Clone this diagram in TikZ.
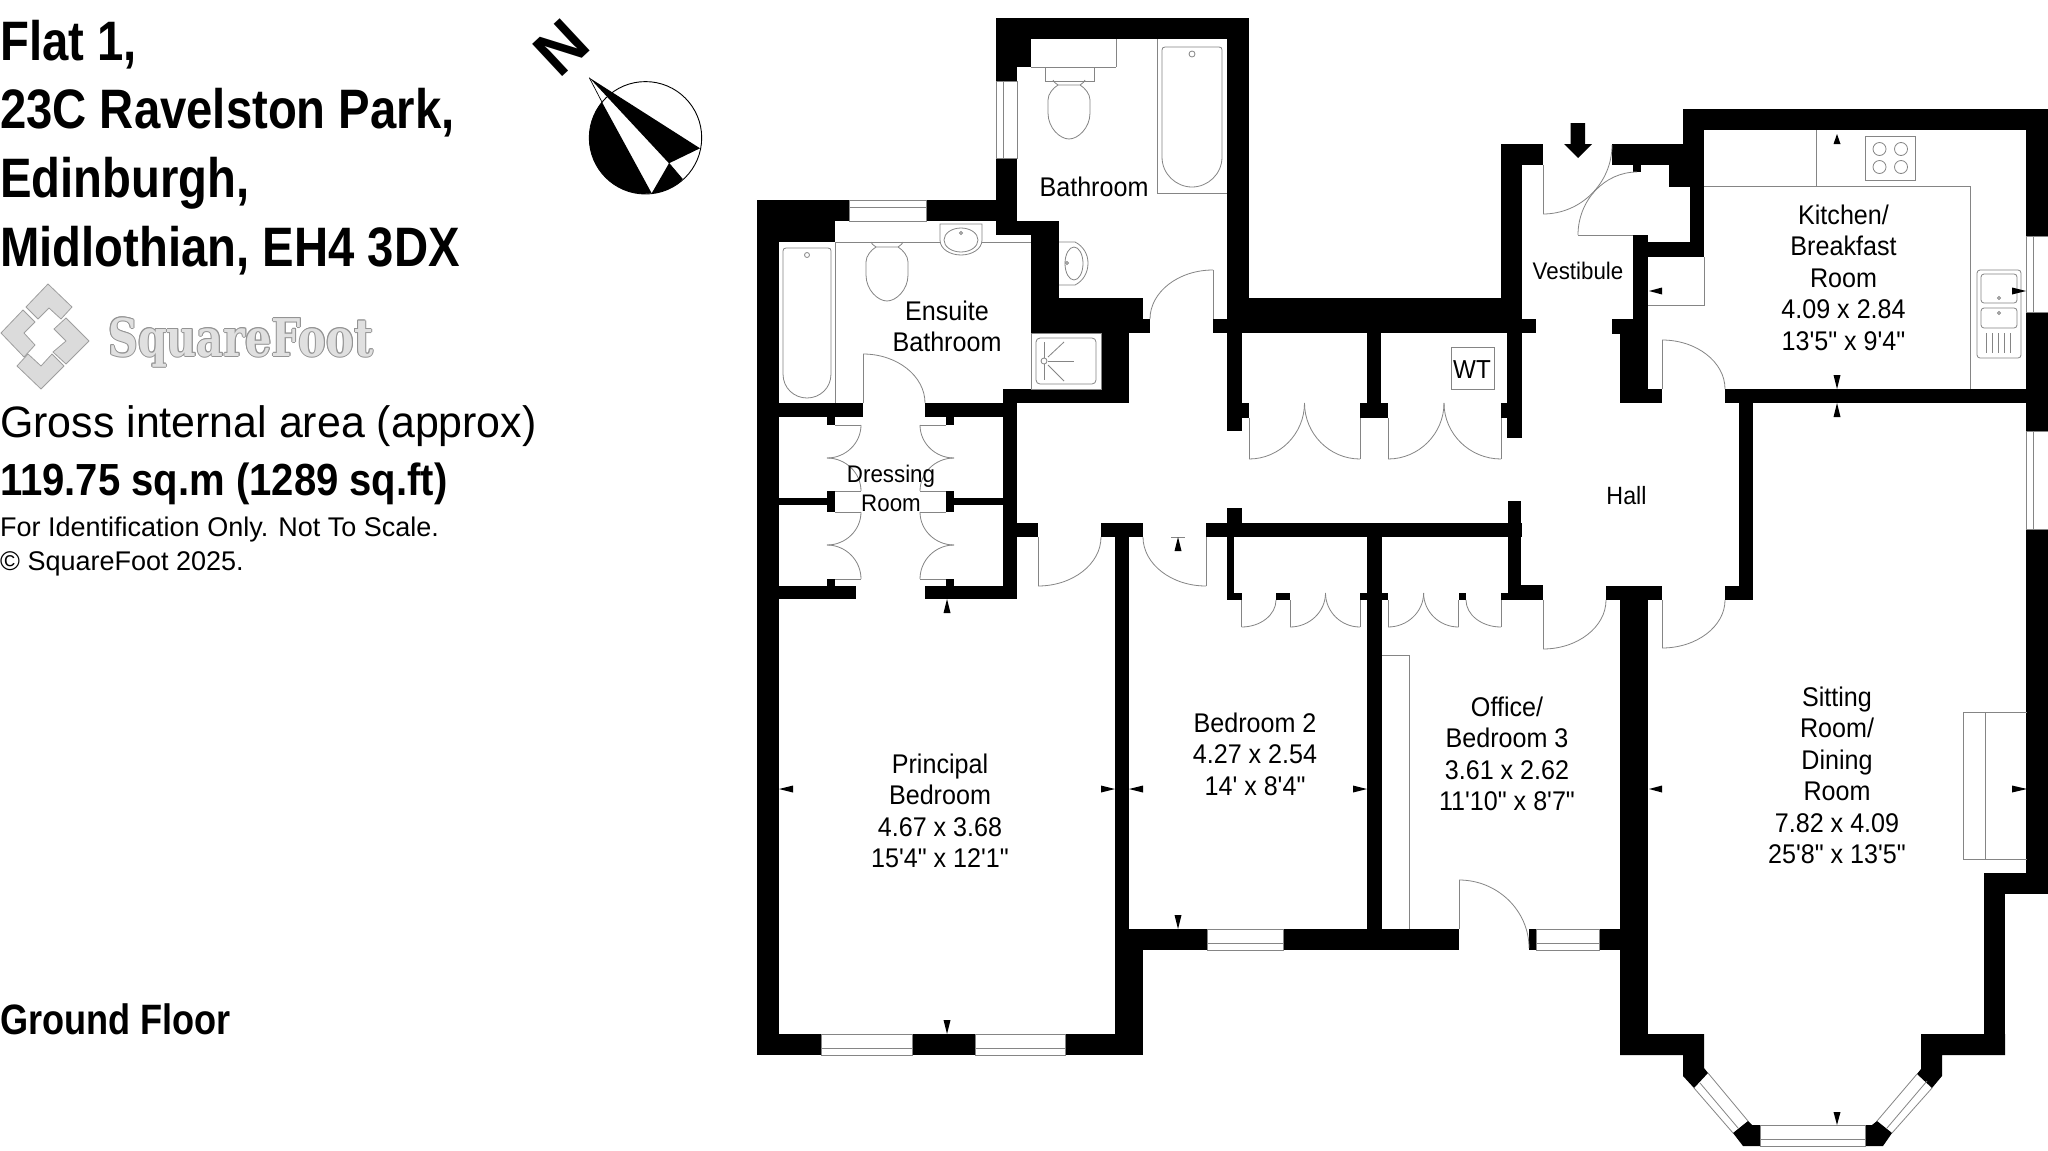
\documentclass[tikz,border=0pt]{standalone}
\usepackage{fontspec}
\usetikzlibrary{calc}
\setmainfont{Liberation Sans}
\newfontfamily\hbf[FakeStretch=.85]{Liberation Sans}
\newfontfamily\hbg[FakeStretch=.89]{Liberation Sans}
\newfontfamily\grf[FakeStretch=.975]{Liberation Sans}
\newfontfamily\labf[FakeStretch=.93]{Liberation Sans}
\newfontfamily\logof[FakeStretch=.795]{DejaVu Serif}
\newcommand\st{\rule{0pt}{20pt}}
\newcommand\W[4]{\fill[black] (#1,#2) rectangle (#3,#4);}
\newcommand\dc[3]{\draw[fix] (#1) .. controls ($(#1)!.55!(#2)$) and ($(#3)!.55!(#2)$) .. (#3);}
\newcommand\lf[2]{\draw[fix] (#1) -- (#2);}
\newcommand\win[4]{\draw[fix,fill=white] (#1,#2) rectangle (#3,#4);}
\newcommand\tri[3]{\fill[black] (#1) -- (#2) -- (#3) -- cycle;}
\newcommand\room[5]{\node[lab,font={\labf\fontsize{#5}{31.5}\selectfont}] (#1) at (#2,{#3-20}) {\st #4};}
\newcommand\wc[2]{\begin{scope}[shift={(#1,#2)}]
  \draw[fix] (-16,-5) .. controls (-15,-3) .. (-11,0) (16,-5) .. controls (15,-3) .. (11,0);
  \draw[fix] (-11,0) -- (11,0) .. controls (16,3) and (21,9) .. (21,15) -- (21,28) .. controls (21,43) and (9,54) .. (0,54) .. controls (-9,54) and (-21,43) .. (-21,28) -- (-21,15) .. controls (-21,9) and (-16,3) .. (-11,0) -- cycle;
\end{scope}}
\newcommand\logotext{\logof\bfseries\fontsize{52}{52}\selectfont SquareFoot}
\tikzset{
  fix/.style={draw=black!48,line width=.8pt},
  lab/.style={anchor=north,inner sep=0pt,align=center,text=black},
  hd/.style={anchor=base west,inner sep=0pt,text=black},
  logopart/.style={fill=black!14,draw=black!38,line width=.8pt,line join=round},
}
\begin{document}
\begin{tikzpicture}[x=1pt,y=-1pt]
\useasboundingbox[fill=white] (0,0) rectangle (2048,1151);
% ---------- header ----------
\node[hd,font={\hbf\bfseries\fontsize{55.6}{55.6}\selectfont}] (t1) at (0,60) {Flat 1,};
\node[hd,font={\hbf\bfseries\fontsize{55.6}{55.6}\selectfont}] (t2) at (0,128.5) {23C Ravelston Park,};
\node[hd,font={\hbf\bfseries\fontsize{55.6}{55.6}\selectfont}] (t3) at (0,197.5) {Edinburgh,};
\node[hd,font={\hbf\bfseries\fontsize{55.6}{55.6}\selectfont}] (t4) at (0,266.5) {Midlothian, EH4 3DX};
\node[hd,font={\grf\fontsize{44}{44}\selectfont}] (t5) at (0,437) {Gross internal area (approx)};
\node[hd,font={\hbg\bfseries\fontsize{45}{45}\selectfont}] (t6) at (0,495) {119.75 sq.m (1289 sq.ft)};
\node[hd,font={\fontsize{27}{27}\selectfont}] (t7) at (0,536) {For Identification Only. Not To Scale.};
\node[hd,font={\fontsize{27}{27}\selectfont}] (t8) at (0,570) {© SquareFoot 2025.};
\node[hd,font={\hbf\bfseries\fontsize{42.5}{42.5}\selectfont}] (t9) at (0,1034) {Ground Floor};
% ---------- logo ----------
\draw[logopart] (48,284)--(72,307)--(61,319)--(49,308)--(38,319)--(26,307)--cycle;
\draw[logopart] (66,318)--(89,341)--(66,364)--(53,352)--(66,341)--(54,329)--cycle;
\draw[logopart] (28,354)--(41,366)--(52,354)--(64,366)--(41,389)--(17,366)--cycle;
\draw[logopart] (23,310)--(35,322)--(24,333)--(35,345)--(24,357)--(1,333)--cycle;
\foreach \dx/\dy in {-1/0,1/0,0/-1,0/1,-.7/-.7,.7/-.7,-.7/.7,.7/.7}
  \node[hd,text=black!42] at (108+\dx,356+\dy) {\logotext};
\node[hd,text=black!12] (logo) at (108,356) {\logotext};
% ---------- compass ----------
\node[inner sep=0pt,font={\bfseries\fontsize{64}{64}\selectfont},rotate=43] (north) at (561,48) {N};
\coordinate (cc) at (645.5,137.8);
\draw[black,line width=.9pt,fill=white] (cc) circle[radius=56.2pt];
\begin{scope}
  \clip (cc) circle[radius=56.2pt];
  \fill[black] (602.3,102.7) -- (651.7,193.3) -- (560,200) -- (560,100) -- cycle;
  \fill[black] (669,163.3) -- (682.3,179) -- (670,200) -- (651.7,193.3) -- cycle;
\end{scope}
\fill[black] (589.3,77.7) -- (700,148.3) -- (669,163.3) -- cycle;
\draw[black,line width=.7pt] (589.3,77.7) -- (602.3,102.7);
\draw[black,line width=.7pt] (669,163.3) -- (682.3,179);
% ---------- walls ----------
\W{996}{18}{1249}{39}\W{996}{39}{1031}{67}\W{996}{67}{1017}{81}\W{996}{158}{1017}{235}
\W{1227}{18}{1249}{333}
\W{757}{200}{849}{221}\W{926}{200}{1017}{221}\W{757}{221}{835}{242}\W{996}{221}{1059}{235}
\W{1031}{235}{1059}{333}\W{1031}{298}{1143}{333}\W{1143}{319}{1150}{333}
\W{1101}{333}{1129}{403}\W{1003}{389}{1129}{403}\W{1003}{403}{1017}{599}
\W{925}{403}{1017}{417}\W{779}{403}{863}{417}\W{757}{242}{779}{1055}
\W{827}{417}{835}{425}\W{946}{417}{954}{425}
\W{779}{498}{835}{505}\W{827}{491}{835}{512}\W{946}{491}{954}{512}\W{954}{498}{1003}{505}
\W{827}{579}{835}{586}\W{946}{579}{954}{586}
\W{779}{586}{856}{599}\W{925}{586}{1017}{599}
\W{1017}{523}{1038}{537}\W{1101}{523}{1143}{537}\W{1115}{537}{1129}{950}
\W{757}{1034}{821}{1055}\W{912}{1034}{975}{1055}\W{1065.5}{1034}{1143}{1055}\W{1115}{950}{1143}{1055}
\W{1129}{929}{1207}{950}\W{1283}{929}{1459}{950}\W{1529}{929}{1536}{950}\W{1599}{929}{1648}{950}
\W{1367}{537}{1382}{929}
\W{1206}{523}{1522}{537}\W{1227}{508}{1241.5}{523}\W{1507.6}{501}{1521.4}{600}\W{1227}{537}{1234}{600}
\W{1227}{593}{1241.5}{600}\W{1276}{593}{1290}{600}\W{1360}{593}{1388}{600}\W{1458.5}{593}{1466}{600}
\W{1501}{593}{1522}{600}\W{1521}{585}{1543}{600}
\W{1249}{298}{1522}{333}\W{1522}{319}{1536}{333}\W{1501}{144}{1522}{333}\W{1501}{144}{1543}{165}
\W{1213}{319}{1249}{333}
\W{1227}{333}{1242}{431}\W{1242}{403}{1249}{418}\W{1367}{333}{1381}{403}\W{1360}{403}{1388}{418}
\W{1507}{333}{1522}{438}\W{1501}{403}{1507}{418}
\W{1612}{144}{1683}{165}\W{1683}{109}{2048}{130}\W{1683}{130}{1704}{187}\W{1669}{165}{1704}{187}
\W{1690}{187}{1704}{257}\W{1641}{242}{1704}{257}\W{1633}{235}{1648}{319}\W{1633}{165}{1641}{172}
\W{1612}{319}{1648}{334}\W{1620}{334}{1648}{403}\W{1620}{389}{1662}{403}
\W{1725}{389}{2048}{403}\W{2026}{109}{2048}{236}\W{2026}{312}{2048}{431}\W{2026}{529}{2048}{894}
\W{1984}{873}{2048}{894}\W{1984}{873}{2005}{1055}\W{1921}{1034}{2005}{1055}
\W{1739}{403}{1753}{600}\W{1725}{586}{1753}{600}
\W{1606}{586}{1662}{600}\W{1620}{600}{1648}{1055}
% bay blocks
\fill[black] (1620,1034) -- (1704,1034) -- (1704,1068) -- (1708,1073) -- (1694,1088) -- (1683,1076) -- (1683,1055) -- (1620,1055) -- cycle;
\fill[black] (1733,1133) -- (1748,1121) -- (1752,1125) -- (1760,1125) -- (1760,1146) -- (1743,1146) -- cycle;
\fill[black] (1865,1125) -- (1872,1125) -- (1877,1121) -- (1892,1133) -- (1883,1146) -- (1865,1146) -- cycle;
\fill[black] (1917,1074) -- (1921,1069) -- (1921,1034) -- (2005,1034) -- (2005,1055) -- (1942,1055) -- (1942,1076) -- (1932,1088) -- cycle;
% ---------- windows ----------
\win{996}{81}{1017}{158}\lf{1003,81}{1003,158}
\win{849}{200}{926}{221}\lf{849,207}{926,207}
\win{821}{1034}{912}{1055}\lf{821,1048}{912,1048}
\win{975}{1034}{1065.5}{1055}\lf{975,1048}{1065.5,1048}
\win{1207}{929}{1283}{950}\lf{1207,943}{1283,943}
\win{1536}{929}{1599}{950}\lf{1536,943}{1599,943}
\win{1760}{1125}{1865}{1146}\lf{1760,1139}{1865,1139}
\draw[fix] (2048,236) -- (2026,236) -- (2026,312) -- (2048,312); \lf{2033,236}{2033,312}
\draw[fix] (2048,431) -- (2026,431) -- (2026,529) -- (2048,529); \lf{2033,431}{2033,529}
\lf{1708,1073}{1748,1121}\lf{1694,1088}{1733,1133}\lf{1700,1083}{1738,1128}
\lf{1877,1121}{1917,1074}\lf{1892,1133}{1932,1088}\lf{1887,1128}{1927,1081}
% ---------- doors ----------
\lf{1213,319}{1213,270}\dc{1213,270}{1150,270}{1150,319}
\lf{863,403}{863,354}\dc{863,354}{925,354}{925,403}
\lf{835,425}{861,425}\dc{861,425}{861,458}{827,458}\dc{827,458}{861,458}{861,491}\lf{835,491}{861,491}
\lf{946,425}{920,425}\dc{920,425}{920,458}{954,458}\dc{954,458}{920,458}{920,491}\lf{946,491}{920,491}
\lf{835,512}{861,512}\dc{861,512}{861,545}{827,545}\dc{827,545}{861,545}{861,579}\lf{835,579}{861,579}
\lf{946,512}{920,512}\dc{920,512}{920,545}{954,545}\dc{954,545}{920,545}{920,579}\lf{946,579}{920,579}
\lf{1038,537}{1038,586}\dc{1038,586}{1101,586}{1101,537}
\lf{1206,537}{1206,586}\dc{1206,586}{1143,586}{1143,537}
\lf{1249,418}{1249,459}\dc{1249,459}{1304.5,459}{1304.5,403}\dc{1360,459}{1304.5,459}{1304.5,403}\lf{1360,418}{1360,459}
\lf{1388,418}{1388,459}\dc{1388,459}{1444,459}{1444,403}\dc{1501,459}{1444,459}{1444,403}\lf{1501,418}{1501,459}
\lf{1241.5,600}{1241.5,627}\dc{1241.5,627}{1276,627}{1276,600}
\lf{1290,600}{1290,627}\dc{1290,627}{1325.5,627}{1325.5,593}\dc{1360,627}{1325.5,627}{1325.5,593}\lf{1360,600}{1360,627}
\lf{1388,600}{1388,627}\dc{1388,627}{1423.6,627}{1423.6,593}\dc{1458.5,627}{1423.6,627}{1423.6,593}\lf{1458.5,600}{1458.5,627}
\dc{1466,600}{1466,627}{1501,627}\lf{1501,600}{1501,627}
\lf{1543,600}{1543,649}\dc{1543,649}{1606,649}{1606,600}
\lf{1662,600}{1662,648}\dc{1662,648}{1725,648}{1725,600}
\lf{1662,389}{1662,340}\dc{1662,340}{1725,340}{1725,389}
\lf{1543,165}{1543,214}\dc{1543,214}{1612,214}{1612,145}
\lf{1633,235}{1578,235}\dc{1578,235}{1578,172}{1637,172}
\lf{1459,929}{1459,880}\dc{1459,880}{1529,880}{1529,948}
% ---------- fittings: bathroom ----------
\lf{1031,67}{1116,67}\lf{1116,39}{1116,67}
\draw[fix] (1045,67) rectangle (1094,81);
\wc{1069}{85}
\draw[fix] (1157,39) -- (1157,193) -- (1227,193);
\draw[fix] (1165,47) -- (1219,47) .. controls (1221,47) and (1222,48) .. (1222,50) -- (1222,157) .. controls (1222,174) and (1208,187) .. (1192,187) .. controls (1176,187) and (1162,174) .. (1162,157) -- (1162,50) .. controls (1162,48) and (1163,47) .. (1165,47) -- cycle;
\draw[fix] (1192,54) circle[radius=3pt];
\draw[fix] (1059,242) -- (1075,242) .. controls (1083,246) and (1088,254) .. (1088,263) .. controls (1088,273) and (1083,281) .. (1075,285) -- (1059,285);
\draw[fix] (1074,263.5) ellipse[x radius=9pt,y radius=16.5pt];
\draw[fix] (1067,263) circle[radius=1.5pt];
% ensuite
\lf{835,242}{1031,242}\lf{835,242}{835,403}
\draw[fix] (786,248) -- (828,248) .. controls (830,248) and (831,249) .. (831,251) -- (831,374) .. controls (831,388) and (820,398) .. (807,398) .. controls (794,398) and (783,388) .. (783,374) -- (783,251) .. controls (783,249) and (784,248) .. (786,248) -- cycle;
\draw[fix] (807,255) circle[radius=2.5pt];
\wc{887}{247}
\draw[fix,fill=white] (940,224) -- (982,224) -- (982,240) .. controls (982,249) and (972,255) .. (961,255) .. controls (950,255) and (940,249) .. (940,240) -- cycle;
\draw[fix] (961,240) ellipse[x radius=17pt,y radius=12pt];
\draw[fix] (961,233) circle[radius=1.5pt];
\draw[fix] (1031,333) rectangle (1101,389);
\draw[fix,rounded corners=4pt] (1036,338) rectangle (1096,384);
\draw[fix] (1044,361) circle[radius=3pt];
\lf{1044,342}{1044,358}\lf{1044,364}{1044,380}
\lf{1048,357}{1064,342}\lf{1048,361}{1074,361}\lf{1048,365}{1064,381}
% WT
\draw[fix] (1451,347) rectangle (1494,389);
% kitchen
\draw[fix] (1704,186) -- (1970,186) -- (1970,389);
\lf{1816,130}{1816,186}
\draw[fix] (1865,136) rectangle (1915,180);
\foreach \cx in {1879.5,1901} \foreach \cy in {149,167} \draw[fix] (\cx,\cy) circle[radius=6.5pt];
\draw[fix] (1704,257) -- (1704,305) -- (1648,305);
\draw[fix,rounded corners=3pt] (1977,270) rectangle (2021,358);
\draw[fix,rounded corners=3pt] (1981,274) rectangle (2017,303);
\draw[fix,rounded corners=3pt] (1981,308) rectangle (2017,328);
\draw[fix] (1999,298) circle[radius=1.5pt];
\draw[fix] (1999,313) circle[radius=1.5pt];
\foreach \dx in {1986,1992,1998,2004,2010} \draw[fix] (\dx,333) -- (\dx,353);
% fireplace, office cupboard
\draw[fix] (2027,712) -- (1963,712) -- (1963,859) -- (2027,859);
\lf{1985,712}{1985,859}
\draw[fix] (1382,655) -- (1409,655) -- (1409,929);
% ---------- entrance arrow ----------
\fill[black] (1570.6,123) -- (1585,123) -- (1585,144) -- (1592,144) -- (1578,158) -- (1564,144) -- (1570.6,144) -- cycle;
% ---------- dimension ticks ----------
\tri{947,599}{943.5,613}{950.5,613}
\lf{1171,537}{1185,537}\tri{1178,537}{1174.5,551}{1181.5,551}
\tri{779,789}{793,785.5}{793,792.5}\tri{1115,789}{1101,785.5}{1101,792.5}
\tri{1129,789}{1143,785.5}{1143,792.5}\tri{1367,789}{1353,785.5}{1353,792.5}
\tri{1178,929}{1174.5,915}{1181.5,915}\tri{947,1034}{943.5,1020}{950.5,1020}
\tri{1649,789}{1662,785.5}{1662,792.5}\tri{2027,789}{2012,785.5}{2012,792.5}
\tri{1837,1125}{1833.5,1112}{1840.5,1112}
\tri{1837,134}{1833.5,144}{1840.5,144}
\tri{1649,291}{1662,287.5}{1662,294.5}\tri{2026,291}{2012,287.5}{2012,294.5}
\tri{1837,389}{1833.5,375}{1840.5,375}\tri{1837,403}{1833.5,417}{1840.5,417}
% ---------- labels ----------
\room{rbath}{1094}{196}{Bathroom}{27}
\room{rens}{947}{320}{Ensuite\\Bathroom}{27}
\node[lab,font={\labf\fontsize{24}{29}\selectfont}] (rdress) at (891,462) {\st Dressing\\Room};
\node[lab,font={\labf\fontsize{24}{24}\selectfont}] (rvest) at (1578,259) {\st Vestibule};
\node[lab,font={\labf\fontsize{25}{25}\selectfont}] (rhall) at (1626.5,484) {\st Hall};
\node[lab,font={\labf\fontsize{26}{26}\selectfont}] (rwt) at (1472,358) {\st WT};
\room{rkit}{1843.5}{224}{Kitchen/\\Breakfast\\Room\\4.09 x 2.84\\13'5" x 9'4"}{27}
\room{rprin}{940}{773}{Principal\\Bedroom\\4.67 x 3.68\\15'4" x 12'1"}{27}
\room{rbed}{1255}{732}{Bedroom 2\\4.27 x 2.54\\14' x 8'4"}{27}
\room{roff}{1507}{716}{Office/\\Bedroom 3\\3.61 x 2.62\\11'10" x 8'7"}{27}
\room{rsit}{1837}{706}{Sitting\\Room/\\Dining\\Room\\7.82 x 4.09\\25'8" x 13'5"}{27}
\end{tikzpicture}
\end{document}
